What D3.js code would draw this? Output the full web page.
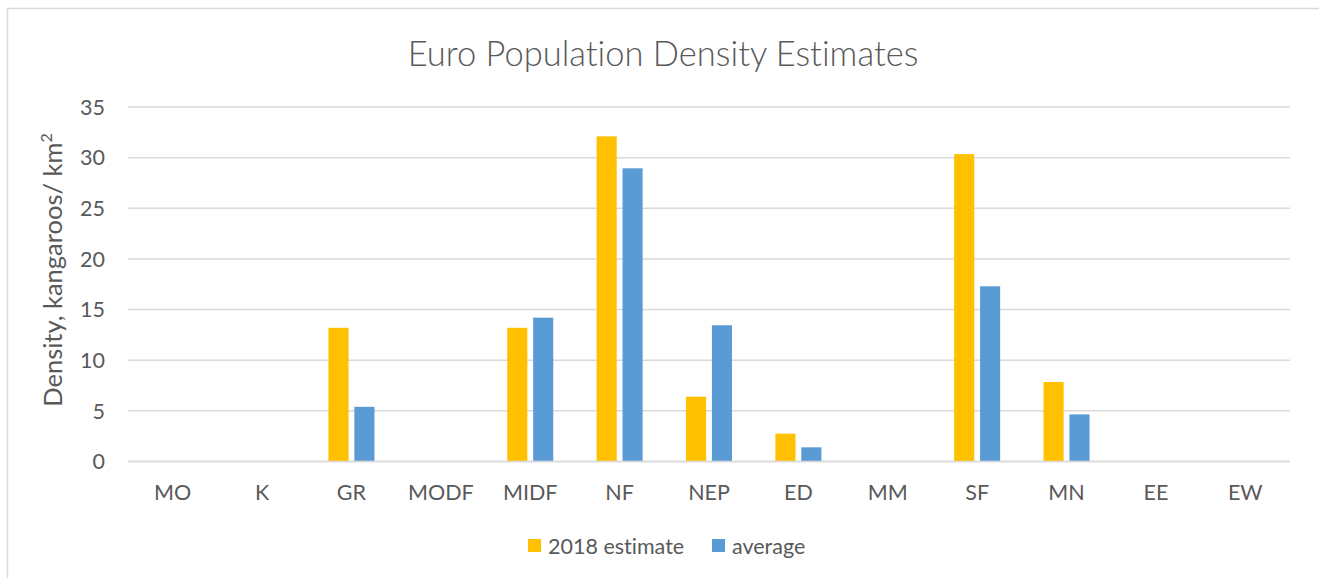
<!DOCTYPE html>
<html>
<head>
<meta charset="utf-8">
<script src="https://cdn.jsdelivr.net/npm/d3@7"></script>
<style>
  html, body { margin: 0; padding: 0; background: #fff; }
  svg { display: block; }
  text { font-family: Lato, "Open Sans", sans-serif; fill: #595959; font-variant-ligatures: none; font-feature-settings: "liga" 0; }
</style>
</head>
<body>
<svg id="chart" width="1319" height="578"></svg>
<script>
const categories = ["MO", "K", "GR", "MODF", "MIDF", "NF", "NEP", "ED", "MM", "SF", "MN", "EE", "EW"];
const estimate2018 = [0, 0, 13.2, 0, 13.2, 32.1, 6.4, 2.75, 0, 30.35, 7.85, 0, 0];
const average = [0, 0, 5.4, 0, 14.2, 28.95, 13.45, 1.4, 0, 17.3, 4.65, 0, 0];
const yTicks = [0, 5, 10, 15, 20, 25, 30, 35];
const seriesNames = ["2018 estimate", "average"];
const seriesColors = ["#FFC000", "#5B9BD5"];

const svg = d3.select("#chart");
const W = 1319, H = 578;

// outer chart border
svg.append("rect").attr("x", 7.5).attr("y", 8.5).attr("width", W + 10).attr("height", H + 10)
  .attr("fill", "#fff").attr("stroke", "#D9D9D9").attr("stroke-width", 1.5);

const plot = { left: 128, right: 1290, top: 107, bottom: 461.5 };

const x = d3.scaleBand().domain(categories).range([plot.left, plot.right]).padding(0);
const y = d3.scaleLinear().domain([0, 35]).range([plot.bottom, plot.top]);

// gridlines
svg.append("g").selectAll("line").data(yTicks).join("line")
  .attr("x1", plot.left).attr("x2", plot.right)
  .attr("y1", d => y(d)).attr("y2", d => y(d))
  .attr("stroke", "#D9D9D9").attr("stroke-width", 1.5);

// y tick labels
svg.append("g").selectAll("text").data(yTicks).join("text")
  .attr("x", 105).attr("y", d => y(d)).attr("dy", "0.36em")
  .attr("text-anchor", "end").attr("font-size", 21.5).text(d => d);

// bars
const bw = x.bandwidth();
const barW = bw * 0.225;
const gap = bw * 0.065;
const series = [estimate2018, average];
series.forEach((vals, si) => {
  svg.append("g").selectAll("rect").data(categories).join("rect")
    .attr("x", (c, i) => x(c) + bw / 2 + (si === 0 ? -gap / 2 - barW : gap / 2))
    .attr("y", (c, i) => y(vals[i]))
    .attr("width", barW)
    .attr("height", (c, i) => y(0) - y(vals[i]))
    .attr("fill", seriesColors[si]);
});

// x axis line (category axis)
svg.append("line").attr("x1", plot.left).attr("x2", plot.right)
  .attr("y1", y(0)).attr("y2", y(0)).attr("stroke", "#D9D9D9").attr("stroke-width", 1.5);

// category labels
svg.append("g").selectAll("text").data(categories).join("text")
  .attr("x", d => x(d) + bw / 2).attr("y", 500)
  .attr("text-anchor", "middle").attr("font-size", 21.5).text(d => d);

// title
svg.append("text").attr("x", 663).attr("y", 66).attr("text-anchor", "middle")
  .attr("font-size", 34.5).attr("font-weight", 300).text("Euro Population Density Estimates");

// y axis title
const yt = svg.append("text").attr("transform", `translate(62,270) rotate(-90)`)
  .attr("text-anchor", "middle").attr("font-size", 25.5);
yt.append("tspan").text("Density, kangaroos/ km");
yt.append("tspan").attr("font-size", 16).attr("dy", -10).text("2");

// legend
const legendItems = [{ x: 528, name: seriesNames[0], color: seriesColors[0] }, { x: 712, name: seriesNames[1], color: seriesColors[1] }];
const lg = svg.append("g").selectAll("g").data(legendItems).join("g");
lg.append("rect").attr("x", d => d.x).attr("y", 539).attr("width", 13).attr("height", 13).attr("fill", d => d.color);
lg.append("text").attr("x", d => d.x + 20).attr("y", 553.5).attr("font-size", 21.5).text(d => d.name);
</script>
</body>
</html>
